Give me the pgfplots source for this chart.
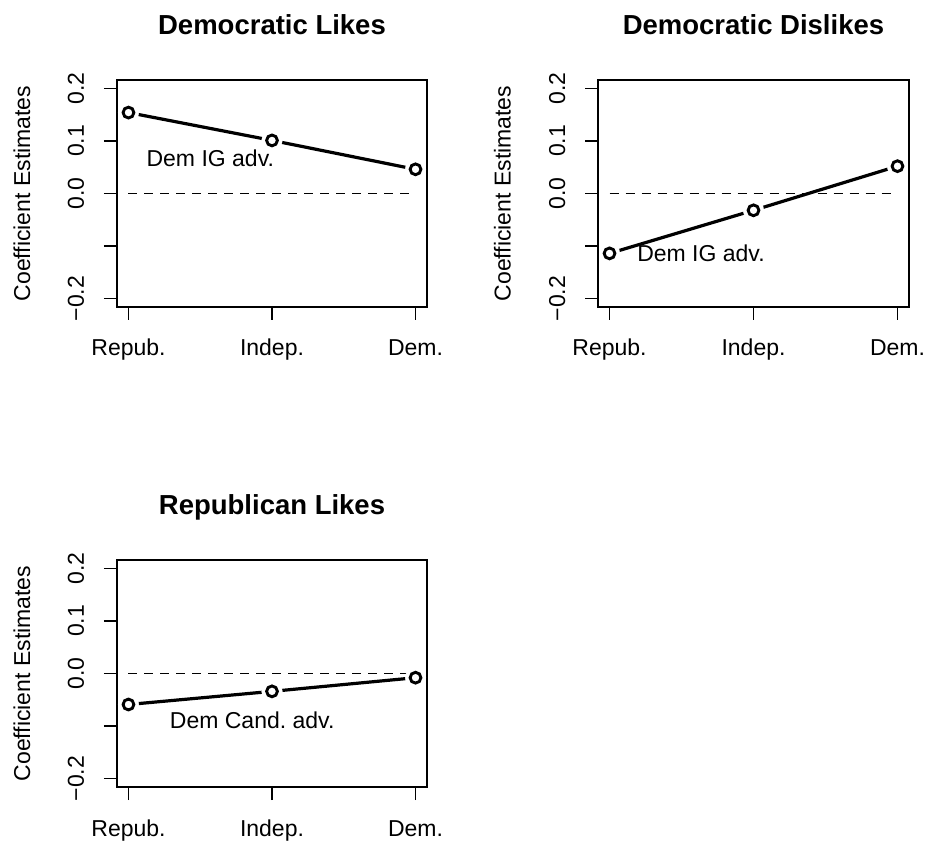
\documentclass[border=0pt]{standalone}
\usepackage{fontspec}
\setmainfont{Liberation Sans}
\usepackage{pgfplots}
\usepackage{pgfplotstable}
\pgfplotsset{compat=1.18}

\pgfplotstableread{
x y
1 0.154
2 0.101
3 0.046
}\demlikes
\pgfplotstableread{
x y
1 -0.114
2 -0.032
3 0.052
}\demdislikes
\pgfplotstableread{
x y
1 -0.059
2 -0.034
3 -0.008
}\replikes

\pgfplotsset{
  panel/.style={
    scale only axis, width=310pt, height=227pt, anchor=south west,
    xmin=0.92, xmax=3.08, ymin=-0.216, ymax=0.216,
    xtick={1,2,3}, xticklabels={Repub.,Indep.,Dem.},
    ytick={-0.2,-0.1,0,0.1,0.2}, yticklabels={−0.2,,0.0,0.1,0.2},
    tick align=outside, major tick length=13pt,
    xtick pos=bottom, ytick pos=left,
    axis line style={line width=1.2pt},
    every tick/.style={line width=1.2pt, black},
    tick label style={font=\fontsize{23}{23}\selectfont, inner sep=0pt},
    xticklabel style={anchor=base}, xticklabel shift=36pt,
    yticklabel style={rotate=90, anchor=base}, yticklabel shift=20pt,
    ylabel={Coefficient Estimates},
    ylabel style={font=\fontsize{23}{23}\selectfont, inner sep=0pt,
      at={(axis description cs:-0.2806,0.5)}, anchor=base},
    title style={font=\bfseries\fontsize{27.5}{27.5}\selectfont, inner sep=0pt,
      at={(axis description cs:0.5,1)}, anchor=base, yshift=39pt},
    axis on top,
    clip=true,
  },
  mainline/.style={line width=3.2pt, black},
  maskdisk/.style={only marks, mark=*, mark size=10.3pt, white, mark options={draw=white, fill=white}},
  circ/.style={only marks, mark=o, mark size=5.4pt, black, mark options={line width=2.9pt, fill=white}},
  zeroline/.style={line width=1.2pt, black, dash pattern=on 9pt off 7pt},
}

\begin{document}
\begin{tikzpicture}
\path[use as bounding box] (0pt,0pt) rectangle (929pt,846pt);

\begin{axis}[panel, at={(117pt,539pt)}, title={Democratic Likes}]
\addplot[mainline] table[x=x,y=y] {\demlikes};
\addplot[maskdisk] table[x=x,y=y] {\demlikes};
\addplot[zeroline] coordinates {(1,0) (3,0)};
\addplot[circ] table[x=x,y=y] {\demlikes};
\node[font=\fontsize{23}{23}\selectfont, anchor=base, inner sep=0pt] at (axis cs:1.57,0.0516) {Dem IG adv.};
\end{axis}

\begin{axis}[panel, width=311pt, at={(598pt,539pt)}, title={Democratic Dislikes}]
\addplot[mainline] table[x=x,y=y] {\demdislikes};
\addplot[maskdisk] table[x=x,y=y] {\demdislikes};
\addplot[zeroline] coordinates {(1,0) (3,0)};
\addplot[circ] table[x=x,y=y] {\demdislikes};
\node[font=\fontsize{23}{23}\selectfont, anchor=base, inner sep=0pt] at (axis cs:1.635,-0.130) {Dem IG adv.};
\end{axis}

\begin{axis}[panel, at={(117pt,59pt)}, title={Republican Likes}]
\addplot[mainline] table[x=x,y=y] {\replikes};
\addplot[maskdisk] table[x=x,y=y] {\replikes};
\addplot[zeroline] coordinates {(1,0) (3,0)};
\addplot[circ] table[x=x,y=y] {\replikes};
\node[font=\fontsize{23}{23}\selectfont, anchor=base, inner sep=0pt] at (axis cs:1.862,-0.105) {Dem Cand.\ adv.};
\end{axis}
\end{tikzpicture}
\end{document}
